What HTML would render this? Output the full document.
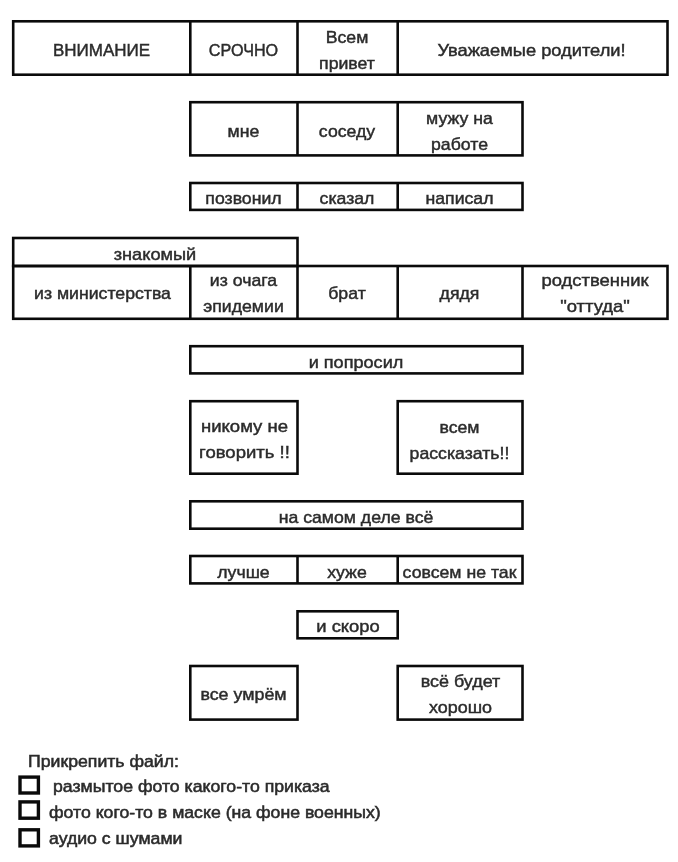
<!DOCTYPE html>
<html><head><meta charset="utf-8">
<style>
html,body{margin:0;padding:0;background:#fff;}
body{width:678px;height:862px;position:relative;overflow:hidden;font-family:"Liberation Sans",sans-serif;color:#2b2b2b;}
svg{position:absolute;left:0;top:0;filter:blur(0.35px);}
.t,.l{filter:blur(0.45px);}
.t,.l{position:absolute;font-size:17px;line-height:26px;white-space:nowrap;-webkit-text-stroke:0.45px #2b2b2b;transform:translateY(var(--dy,2.5px)) scaleX(var(--sx,1.04));}
.t{text-align:center;}
.l{transform-origin:0 50%;-webkit-text-stroke:0.55px #2b2b2b;}
</style></head><body>
<svg width="678" height="862" viewBox="0 0 678 862" fill="none" stroke="#0a0a0a" stroke-width="2.6">
<!-- row1 -->
<rect x="13.2" y="21.3" width="654.3" height="53.4"/>
<path d="M190.3 21.3V74.7M297.5 21.3V74.7M397.7 21.3V74.7"/>
<!-- row2 -->
<rect x="190.3" y="102.2" width="332.2" height="53.2"/>
<path d="M297.5 102.2V155.4M397.7 102.2V155.4"/>
<!-- row3 -->
<rect x="190.3" y="183" width="332.2" height="26.9"/>
<path d="M297.5 183V209.9M397.7 183V209.9"/>
<!-- znakomy -->
<rect x="13.2" y="238" width="284.3" height="28"/>
<rect x="13.2" y="266" width="654.3" height="52.8"/>
<path d="M190.3 266V318.8M297.5 266V318.8M397.7 266V318.8M522.5 266V318.8"/>
<!-- i poprosil -->
<rect x="190.3" y="346.2" width="332.2" height="27.2"/>
<!-- nikomu / vsem -->
<rect x="190.3" y="401.2" width="107.2" height="72.5"/>
<rect x="397.7" y="401.2" width="124.8" height="72.5"/>
<!-- na samom dele -->
<rect x="190.3" y="501.3" width="332.2" height="27.4"/>
<!-- luchshe -->
<rect x="190.3" y="556" width="332.2" height="27.4"/>
<path d="M297.5 556V583.4M397.7 556V583.4"/>
<!-- i skoro -->
<rect x="297.5" y="611.3" width="100.2" height="27"/>
<!-- vse umrem -->
<rect x="190.3" y="666" width="107.2" height="53.6"/>
<rect x="397.7" y="666" width="124.8" height="53.6"/>
<!-- checkboxes -->
<rect x="20" y="777.1" width="18.4" height="15.9" stroke-width="3.4"/>
<rect x="20" y="801.9" width="18.4" height="16.3" stroke-width="3.4"/>
<rect x="20" y="829.8" width="18.4" height="16.1" stroke-width="3.4"/>
</svg>

<div class="t" style="left:13px;width:177px;top:35px;--sx:1;">ВНИМАНИЕ</div>
<div class="t" style="left:190px;width:107px;top:35px;--sx:0.95;">СРОЧНО</div>
<div class="t" style="left:297px;width:100px;top:22px;">Всем<br>привет</div>
<div class="t" style="left:397px;width:269px;top:35px;--sx:1.075;">Уважаемые родители!</div>

<div class="t" style="left:190px;width:107px;top:116px;">мне</div>
<div class="t" style="left:297px;width:100px;top:116px;">соседу</div>
<div class="t" style="left:397px;width:125px;top:103px;">мужу на<br>работе</div>

<div class="t" style="left:190px;width:107px;top:184px;--dy:1.9px;">позвонил</div>
<div class="t" style="left:297px;width:100px;top:184px;--dy:1.9px;">сказал</div>
<div class="t" style="left:397px;width:125px;top:184px;--dy:1.9px;">написал</div>

<div class="t" style="left:13px;width:284px;top:239px;--sx:1.07;">знакомый</div>
<div class="t" style="left:14px;width:177px;top:279px;--dy:1.5px;">из министерства</div>
<div class="t" style="left:190px;width:107px;top:266px;--dy:1.5px;">из очага<br>эпидемии</div>
<div class="t" style="left:297px;width:100px;top:279px;--dy:2px;">брат</div>
<div class="t" style="left:397px;width:125px;top:279px;--dy:2px;">дядя</div>
<div class="t" style="left:523px;width:144px;top:266px;--dy:2px;--sx:1.085;">родственник<br>"оттуда"</div>

<div class="t" style="left:190px;width:332px;top:347px;--sx:1.065;">и попросил</div>

<div class="t" style="left:191px;width:107px;top:412px;--sx:1.09;--dy:1.6px;">никому не<br>говорить !!</div>
<div class="t" style="left:397px;width:125px;top:412px;">всем<br>рассказать!!</div>

<div class="t" style="left:190px;width:332px;top:502px;">на самом деле всё</div>

<div class="t" style="left:190px;width:107px;top:557px;">лучше</div>
<div class="t" style="left:297px;width:100px;top:557px;">хуже</div>
<div class="t" style="left:397px;width:125px;top:557px;">совсем не так</div>

<div class="t" style="left:298px;width:100px;top:612px;--dy:1.5px;--sx:1.08;">и скоро</div>

<div class="t" style="left:190px;width:107px;top:680px;--dy:1.5px;--sx:1.05;">все умрём</div>
<div class="t" style="left:398px;width:125px;top:667px;--dy:1.5px;--sx:1.055;">всё будет<br>хорошо</div>

<div class="l" style="left:27.5px;top:748px;--dy:0.8px;">Прикрепить файл:</div>
<div class="l" style="left:53px;top:773px;--dy:0.5px;">размытое фото какого-то приказа</div>
<div class="l" style="left:48.8px;top:799px;--dy:0.7px;">фото кого-то в маске (на фоне военных)</div>
<div class="l" style="left:48.6px;top:826px;--dy:-0.1px;">аудио с шумами</div>
</body></html>
